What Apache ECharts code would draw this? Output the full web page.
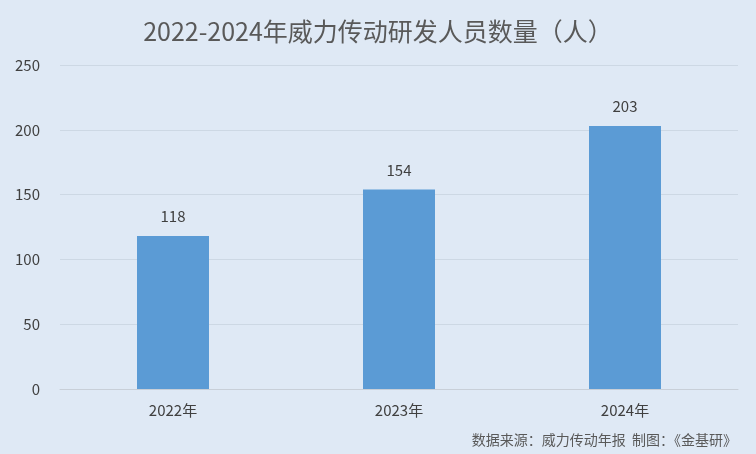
<!DOCTYPE html><html><head><meta charset="utf-8"><script src="https://cdn.jsdelivr.net/npm/echarts@6/dist/echarts.min.js"></script>
<style>html,body{margin:0;padding:0;background:#dfe9f5}#c{width:756px;height:454px}</style></head><body><div id="c"></div><script>
const categories=['2022年','2023年','2024年'];
const values=[118,154,203];
const chart=echarts.init(document.getElementById('c'));
chart.setOption({
backgroundColor:'#dfe9f5',
textStyle:{fontFamily:'"Noto Sans CJK SC", sans-serif'},
title:[{text:'2022-2024年威力传动研发人员数量（人）',left:'center',top:14,textStyle:{fontSize:25,fontWeight:'normal',color:'#595959'}},
{text:'数据来源：威力传动年报  制图：《金基研》',right:14,bottom:2,textStyle:{fontSize:14,fontWeight:'normal',color:'#595959'}}],
grid:{left:60,right:18,top:65,bottom:65},
xAxis:{type:'category',data:categories,axisTick:{show:false},axisLine:{lineStyle:{color:'#c8cfd8'}},axisLabel:{fontSize:15,color:'#404040',margin:14}},
yAxis:{type:'value',min:0,max:250,interval:50,axisLabel:{fontSize:15,color:'#404040',margin:20},splitLine:{lineStyle:{color:'#cdd8e4'}}},
series:[{type:'bar',data:values,barWidth:72,itemStyle:{color:'#5b9bd5'},label:{show:true,position:'top',distance:12,fontSize:15,color:'#404040'}}]
});
</script></body></html>
